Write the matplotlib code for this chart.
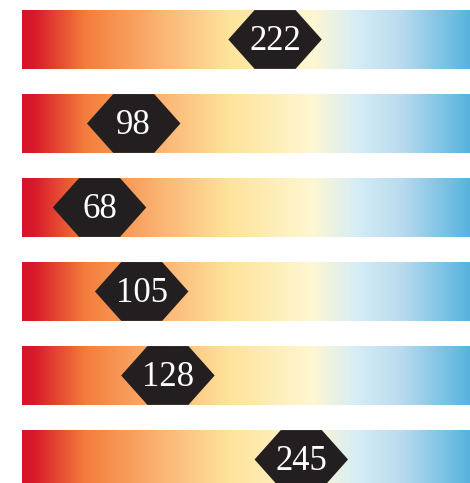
import matplotlib.pyplot as plt
import numpy as np
from matplotlib.colors import LinearSegmentedColormap
from matplotlib.patches import Polygon

# values shown in the hexagon markers, top to bottom
values = [222, 98, 68, 105, 128, 245]
labels = ['222', '98', '68', '105', '128', '245']
scale_max = 393  # right end of the gradient scale (cut at figure edge)

# gradient colours along the scale
stops = [(0.00, '#d7132a'), (0.025, '#d8192a'), (0.14, '#f47d3b'),
         (0.31, '#fbb474'), (0.46, '#fee39a'), (0.65, '#fef7d2'),
         (0.75, '#d5edf6'), (0.85, '#b9dbef'), (1.00, '#58b3de')]
cmap = LinearSegmentedColormap.from_list('bar', stops)

fig = plt.figure(figsize=(4.70, 4.83), dpi=100)
ax = fig.add_axes([0, 0, 1, 1])

bar_h = 0.70
hex_half_w = 41   # in value units
hex_side = 23
grad = np.linspace(0, 1, 512).reshape(1, -1)

for i, (v, lab) in enumerate(zip(values, labels)):
    ax.imshow(grad, extent=(0, scale_max, i + bar_h/2, i - bar_h/2),
              cmap=cmap, aspect='auto', interpolation='bilinear', zorder=1)
    top, bot = i - bar_h/2, i + bar_h/2
    pts = [(v - hex_half_w, i), (v - hex_half_w + hex_side, top),
           (v + hex_half_w - hex_side, top), (v + hex_half_w, i),
           (v + hex_half_w - hex_side, bot), (v - hex_half_w + hex_side, bot)]
    ax.add_patch(Polygon(pts, closed=True, facecolor='#231f20',
                         edgecolor='none', zorder=2))
    ax.text(v, i + 0.03, lab, color='white', fontsize=25,
            family='Liberation Serif', ha='center', va='center', zorder=3)

ax.set_xlim(-19.3, scale_max)
ax.set_ylim(5.28, -0.47)
ax.axis('off')

fig.savefig('out.png', dpi=100)
